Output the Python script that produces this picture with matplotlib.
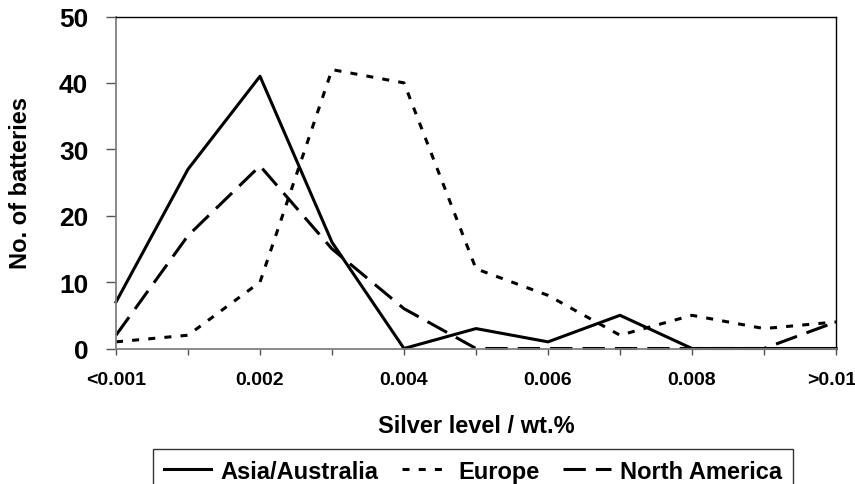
import matplotlib.pyplot as plt
import matplotlib.transforms as mtransforms
import numpy as np

plt.rcParams['font.family'] = ['Liberation Sans', 'DejaVu Sans']
plt.rcParams['font.weight'] = 'bold'

# Silver level classes (one point per class)
categories = ['<0.001', '0.001', '0.002', '0.003', '0.004', '0.005',
              '0.006', '0.007', '0.008', '0.009', '>0.01']
asia = [7, 27, 41, 16, 0, 3, 1, 5, 0, 0, 0]
europe = [1, 2, 10, 42, 40, 12, 8, 2, 5, 3, 4]
north_america = [2, 17, 27.5, 15, 6, 0, 0, 0, 0, 0, 4]

y_ticks = [0, 10, 20, 30, 40, 50]

fig = plt.figure(figsize=(8.55, 4.85), dpi=100)
ax = fig.add_axes([116 / 855, 1 - 349.5 / 485, 720 / 855, 332 / 485])

x = np.arange(len(categories))
lw = 2.2
ax.plot(x, asia, color='black', linewidth=lw, linestyle='-',
        label='Asia/Australia', clip_on=False)
ax.plot(x, europe, color='black', linewidth=lw, linestyle=(0, (2.3, 3.0)),
        label='Europe', clip_on=False)
ax.plot(x, north_america, color='black', linewidth=lw, linestyle=(0, (7.3, 3.3)),
        label='North America', clip_on=False)

ax.set_xlim(0, len(categories) - 1)
ax.set_ylim(0, 50)

ax.set_xticks(x)
ax.set_xticklabels([c if i % 2 == 0 else '' for i, c in enumerate(categories)])
ax.set_yticks(y_ticks)

ax.tick_params(axis='x', direction='out', length=4, width=1, color='#555555',
               labelsize=14, pad=12)
ax.tick_params(axis='y', direction='out', length=7, width=1, color='#555555',
               labelsize=19, pad=13)
# last label sits on the right edge, as in the original; keep it inside
last = ax.get_xticklabels()[-1]
last.set_horizontalalignment('right')
last.set_transform(last.get_transform() + mtransforms.ScaledTranslation(
    20 / 100, 0, fig.dpi_scale_trans))

for side in ['left', 'bottom']:
    ax.spines[side].set_color('#808080')
    ax.spines[side].set_linewidth(1.3)
for side in ['top', 'right']:
    ax.spines[side].set_color('black')
    ax.spines[side].set_linewidth(1.0)

ax.set_xlabel('Silver level / wt.%', fontsize=17, fontweight='bold')
ax.xaxis.set_label_coords(0.5, (349.5 - 415) / 332)
ax.set_ylabel('No. of batteries', fontsize=17, fontweight='bold')
ax.yaxis.set_label_coords((32 - 116) / 720, 0.5)

leg = fig.legend(loc='upper left', bbox_to_anchor=(153 / 855, 1 - 450 / 485),
                 ncol=3, fontsize=17, frameon=True, fancybox=False,
                 edgecolor='black', handlelength=2.0, handletextpad=0.4,
                 columnspacing=1.0, borderpad=0.45, borderaxespad=0)
leg.get_frame().set_linewidth(1.0)

fig.savefig('out.png', dpi=100)
